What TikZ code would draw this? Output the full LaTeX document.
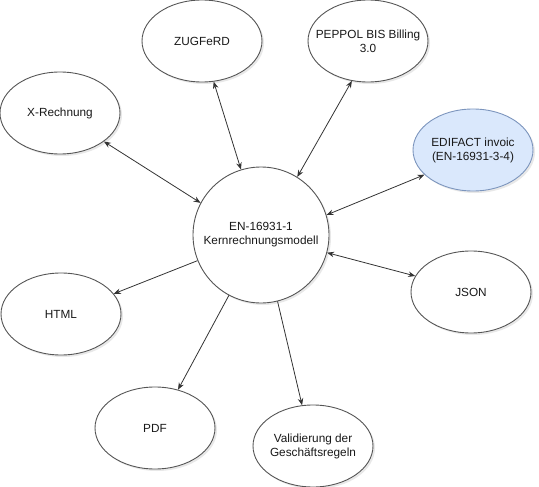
\documentclass[tikz,border=0pt]{standalone}
\usepackage{fontspec}
\setmainfont{Liberation Sans}
\definecolor{lineg}{HTML}{333333}
\definecolor{rimg}{HTML}{555555}
\definecolor{bfill}{HTML}{DAE8FC}
\definecolor{bdraw}{HTML}{7C95BD}
\usetikzlibrary{shapes.geometric,arrows.meta,shadows}

\begin{document}
\begin{tikzpicture}[x=1pt,y=-1pt,
      every node/.style={font=\fontsize{11.8}{14}\selectfont,align=center,text=black!90},
      fmt/.style={ellipse,draw=rimg,fill=white,line width=0.9pt,inner xsep=-15pt,inner ysep=0pt,
        minimum width=120pt,minimum height=82pt,
        drop shadow={shadow xshift=2pt,shadow yshift=-2pt,opacity=0.18}},
      core/.style={circle,draw=rimg,fill=white,line width=0.9pt,minimum size=136pt,inner sep=0pt,
        drop shadow={shadow xshift=2pt,shadow yshift=-2pt,opacity=0.18}},
      both/.style={{Stealth[length=7pt,width=5.5pt]}-{Stealth[length=7pt,width=5.5pt]},lineg,line width=0.8pt},
      one/.style={-{Stealth[length=7pt,width=5.5pt]},lineg,line width=0.8pt}]
    \useasboundingbox (0,0) rectangle (539,487);

    \node[core] (kern) at (261,235) {EN-16931-1\\Kernrechnungsmodell};
    \node[fmt] (xr) at (60,113) {X-Rechnung};
    \node[fmt] (zf) at (202,41) {ZUGFeRD};
    \node[fmt] (pp) at (368,41) {PEPPOL BIS Billing\\3.0};
    \node[fmt,fill=bfill,draw=bdraw] (edi) at (473,150) {EDIFACT invoic\\(EN-16931-3-4)};
    \node[fmt] (js) at (471,292) {JSON};
    \node[fmt] (ht) at (61,314) {HTML};
    \node[fmt] (pdf) at (155,428) {PDF};
    \node[fmt] (val) at (313,446) {Validierung der\\Geschäftsregeln};

    % syntaxes, both ways
    \draw[both] (xr.-33) -- (kern.152);
    \draw[both] (zf.-74) -- (kern.107);
    \draw[both] (pp.-112) -- (kern.58);
    \draw[both] (edi.207) -- (kern.17);
    \draw[both] (kern.-15) -- (js.164);
    % outputs
    \draw[one] (kern.202) -- (ht.21);
    \draw[one] (kern.-118) -- (pdf.59);
    \draw[one] (kern.-76) -- (val.105);
  \end{tikzpicture}
\end{document}
